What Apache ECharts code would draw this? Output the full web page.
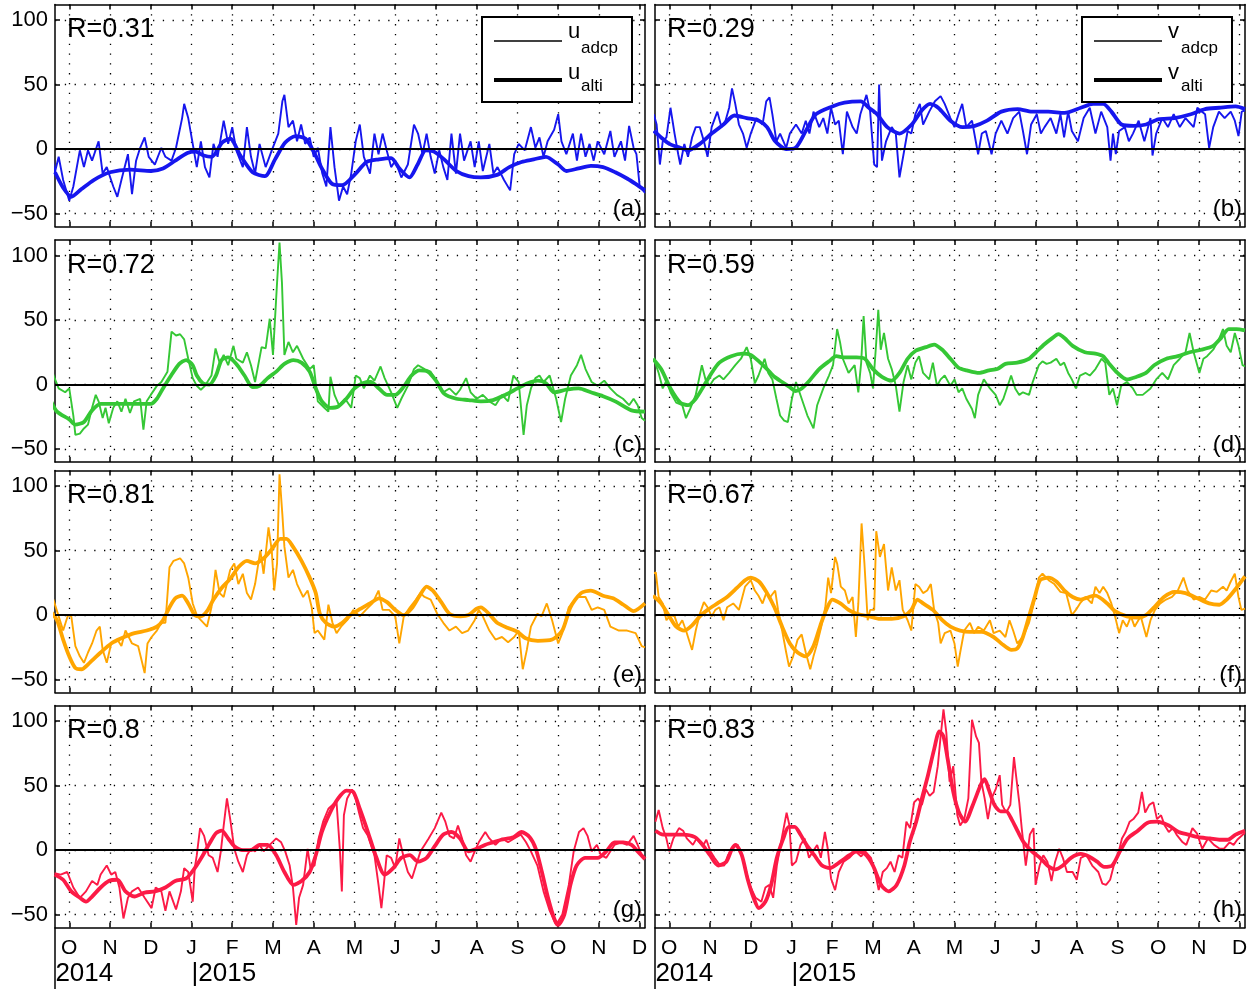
<!DOCTYPE html>
<html><head><meta charset="utf-8">
<script src="https://cdn.jsdelivr.net/npm/echarts@6/dist/echarts.min.js"></script>
<style>html,body{margin:0;padding:0;background:#fff}#c{width:1257px;height:989px}</style>
</head><body><div id="c"></div>
<script>
// x values are months since 1 Oct 2014 (0 = Oct 2014, 3 = Jan 2015, 14 = Dec 2015)
const monthTicks = [0,1,2,3,4,5,6,7,8,9,10,11,12,13,14];
const monthLabels = ['O','N','D','J','F','M','A','M','J','J','A','S','O','N','D'];
const yearTicks = [-0.34, 3];
const yearLabels = ['2014', '|2015'];
const yTicks = [-50, 0, 50, 100];
const rValues = ['0.31','0.29','0.72','0.59','0.81','0.67','0.8','0.83'];
const panelTags = ['(a)','(b)','(c)','(d)','(e)','(f)','(g)','(h)'];
const components = ['u','v'];

const adcpA = [[-0.44,4],[-0.36,-19],[-0.26,-6],[-0.15,-24],[0,-40],[0.1,-29],[0.26,-1],[0.36,-14],[0.46,-1],[0.56,-9],[0.72,6],[0.82,-19],[0.92,-14],[1.08,-29],[1.18,-37],[1.28,-24],[1.44,-4],[1.54,-35],[1.64,-9],[1.74,1],[1.85,9],[1.95,-6],[2.1,-12],[2.26,1],[2.36,-6],[2.51,-9],[2.62,1],[2.77,24],[2.82,35],[2.92,24],[3.03,4],[3.13,-14],[3.23,6],[3.33,-14],[3.44,-22],[3.54,4],[3.64,-6],[3.79,22],[3.9,4],[4.0,17],[4.1,-1],[4.26,-14],[4.36,17],[4.46,-6],[4.56,-19],[4.67,4],[4.82,-14],[4.97,-1],[5.13,12],[5.23,37],[5.28,42],[5.38,17],[5.49,22],[5.59,6],[5.69,19],[5.79,4],[5.9,9],[6.0,-6],[6.1,1],[6.21,-19],[6.31,-29],[6.41,17],[6.51,-14],[6.62,-40],[6.72,-29],[6.82,-35],[6.92,-19],[7.03,6],[7.13,19],[7.23,-6],[7.38,-19],[7.49,12],[7.59,-4],[7.69,12],[7.79,-1],[7.9,-14],[8.0,-9],[8.15,-22],[8.31,-12],[8.46,19],[8.56,12],[8.67,-4],[8.77,12],[8.87,-6],[8.97,-19],[9.08,-1],[9.18,-14],[9.28,-24],[9.38,12],[9.49,-19],[9.59,12],[9.69,-9],[9.85,6],[9.95,-14],[10.05,6],[10.15,-17],[10.31,4],[10.41,-19],[10.51,-14],[10.67,-24],[10.82,-32],[10.92,-4],[11.03,4],[11.18,-1],[11.33,17],[11.44,1],[11.54,9],[11.64,-6],[11.74,6],[11.9,15],[12.0,27],[12.08,6],[12.2,-4],[12.36,12],[12.46,-9],[12.56,12],[12.67,-6],[12.77,4],[12.87,-9],[12.97,6],[13.13,-4],[13.28,14],[13.38,-6],[13.54,6],[13.64,-9],[13.74,18],[13.85,1],[13.92,-4],[14.0,-29],[14.13,-34]];
const altiA = [[-0.35,-18],[-0.15,-30],[0.05,-37],[0.3,-31],[0.6,-24],[1,-18],[1.5,-16],[2,-17],[2.3,-15],[2.6,-9],[2.9,-3],[3.1,-2],[3.3,-5],[3.5,-6],[3.75,5],[3.95,8],[4.2,-5],[4.5,-18],[4.8,-21],[5.05,-8],[5.3,5],[5.55,10],[5.8,8],[6.0,-2],[6.2,-15],[6.45,-27],[6.7,-28],[7.0,-20],[7.3,-10],[7.6,-8],[7.9,-7],[8.1,-15],[8.35,-22],[8.55,-12],[8.75,-1],[8.95,-2],[9.2,-8],[9.5,-17],[9.8,-21],[10.1,-22],[10.5,-20],[10.8,-14],[11.1,-10],[11.4,-8],[11.7,-6],[12.0,-12],[12.2,-17],[12.5,-15],[12.8,-13],[13.1,-14],[13.4,-18],[13.7,-23],[13.9,-27],[14.13,-32]];

const adcpB = [[-0.38,27],[-0.31,19],[-0.23,-12],[-0.16,6],[-0.07,9],[0.03,32],[0.13,12],[0.22,-4],[0.27,-12],[0.37,4],[0.46,-6],[0.56,9],[0.65,17],[0.75,17],[0.85,6],[0.94,-6],[1.04,17],[1.18,29],[1.28,17],[1.38,22],[1.47,32],[1.54,47],[1.62,35],[1.71,19],[1.81,12],[1.9,1],[2.0,12],[2.14,24],[2.29,19],[2.38,37],[2.46,40],[2.53,27],[2.63,6],[2.72,12],[2.87,1],[2.96,12],[3.11,19],[3.25,12],[3.35,22],[3.44,12],[3.54,29],[3.68,17],[3.78,24],[3.88,12],[3.97,32],[4.07,19],[4.16,22],[4.26,-4],[4.36,29],[4.5,17],[4.6,12],[4.69,27],[4.84,42],[4.93,29],[5.03,-12],[5.1,-14],[5.15,50],[5.22,-9],[5.32,6],[5.46,17],[5.56,12],[5.65,-22],[5.75,-4],[5.85,14],[5.94,12],[6.04,27],[6.15,35],[6.23,19],[6.38,29],[6.52,37],[6.66,41],[6.76,35],[6.9,24],[7.0,17],[7.1,27],[7.19,35],[7.29,17],[7.43,22],[7.58,-4],[7.67,12],[7.77,14],[7.91,-4],[8.01,12],[8.15,22],[8.3,12],[8.44,24],[8.59,29],[8.68,14],[8.78,-4],[8.88,19],[9.02,27],[9.12,12],[9.21,17],[9.36,24],[9.5,12],[9.6,27],[9.69,9],[9.79,29],[9.88,14],[10.03,6],[10.17,24],[10.32,32],[10.46,12],[10.6,29],[10.75,17],[10.83,-9],[10.89,12],[10.96,-4],[11.04,14],[11.18,17],[11.28,6],[11.38,12],[11.52,22],[11.66,6],[11.81,24],[11.86,-5],[11.95,12],[12.1,24],[12.24,17],[12.38,27],[12.53,17],[12.67,24],[12.87,17],[12.96,32],[13.15,27],[13.25,1],[13.35,17],[13.49,29],[13.63,24],[13.78,29],[13.88,22],[13.97,10],[14.05,29],[14.13,30]];
const altiB = [[-0.38,14],[-0.2,9],[0.0,4],[0.27,1],[0.46,-1],[0.75,4],[1.04,12],[1.33,19],[1.6,26],[1.9,24],[2.2,22],[2.4,17],[2.6,6],[2.87,0],[3.1,1],[3.35,14],[3.6,27],[4.0,33],[4.3,36],[4.7,37],[4.9,32],[5.1,27],[5.35,17],[5.65,12],[5.95,19],[6.2,30],[6.4,35],[6.6,32],[6.9,22],[7.2,17],[7.5,18],[7.8,22],[8.15,29],[8.55,31],[8.9,29],[9.3,29],[9.7,28],[10.1,32],[10.4,35],[10.65,35],[10.85,29],[11.1,19],[11.4,18],[11.7,19],[12.0,23],[12.4,24],[12.8,27],[13.15,31],[13.5,32],[13.9,33],[14.13,31]];

const adcpC = [[-0.44,12],[-0.36,5],[-0.26,-3],[-0.1,-6],[0,-3],[0.1,-24],[0.15,-39],[0.26,-38],[0.36,-34],[0.46,-31],[0.56,-18],[0.65,-8],[0.72,-13],[0.82,-26],[0.89,-18],[0.97,-30],[1.08,-18],[1.18,-13],[1.28,-21],[1.38,-11],[1.49,-22],[1.59,-13],[1.74,-11],[1.82,-35],[1.9,-13],[2.0,-8],[2.15,-1],[2.26,2],[2.41,10],[2.51,41],[2.62,38],[2.72,39],[2.82,35],[2.92,20],[3.03,5],[3.13,-1],[3.23,-4],[3.33,-1],[3.49,7],[3.59,28],[3.69,17],[3.79,23],[3.9,15],[4.03,30],[4.1,20],[4.26,17],[4.36,25],[4.46,15],[4.56,2],[4.72,29],[4.82,28],[4.92,51],[5.0,23],[5.1,79],[5.16,110],[5.22,79],[5.28,23],[5.38,33],[5.49,25],[5.59,30],[5.74,20],[5.9,12],[6.0,15],[6.1,-13],[6.26,-18],[6.36,-21],[6.41,6],[6.51,-8],[6.62,-16],[6.77,-11],[6.92,-18],[7.03,7],[7.13,5],[7.23,-3],[7.38,7],[7.49,3],[7.64,14],[7.74,5],[7.9,-6],[8.05,-18],[8.15,-11],[8.31,-1],[8.46,12],[8.56,15],[8.72,12],[8.87,10],[9.03,2],[9.18,-6],[9.33,-3],[9.49,-8],[9.59,-4],[9.74,5],[9.85,-6],[10.0,-11],[10.15,-8],[10.31,-13],[10.46,-16],[10.62,-8],[10.77,-13],[10.9,7],[11.03,2],[11.15,-39],[11.23,-16],[11.33,-3],[11.44,5],[11.54,7],[11.64,2],[11.79,7],[11.95,-11],[12.07,-29],[12.17,-11],[12.31,7],[12.46,15],[12.56,23],[12.67,12],[12.82,2],[12.97,-1],[13.13,3],[13.28,-3],[13.44,-8],[13.59,-11],[13.74,-16],[13.85,-11],[13.95,-16],[14.05,-26],[14.13,-28]];
const altiC = [[-0.46,-12],[-0.3,-21],[0,-27],[0.15,-31],[0.36,-29],[0.56,-20],[0.77,-15],[1.08,-15],[1.5,-15],[2.0,-15],[2.15,-11],[2.3,-3],[2.5,7],[2.7,16],[2.87,19],[3.03,15],[3.13,7],[3.28,1],[3.44,0],[3.6,7],[3.74,19],[3.9,21],[4.1,16],[4.3,7],[4.5,-2],[4.67,-1],[4.87,5],[5.08,10],[5.28,16],[5.5,19],[5.7,17],[5.9,10],[6.05,-3],[6.2,-13],[6.4,-18],[6.6,-17],[6.8,-11],[7.0,-3],[7.2,1],[7.4,2],[7.6,-3],[7.8,-8],[8.0,-8],[8.2,-2],[8.4,7],[8.6,11],[8.8,10],[9.0,3],[9.2,-7],[9.5,-11],[9.8,-12],[10.1,-13],[10.4,-12],[10.7,-8],[11.0,-3],[11.25,1],[11.5,3],[11.7,1],[11.9,-6],[12.2,-4],[12.5,-3],[12.8,-6],[13.1,-9],[13.4,-13],[13.8,-20],[14.13,-21]];

const adcpD = [[-0.4,22],[-0.26,9],[-0.16,-3],[-0.07,3],[0.03,-6],[0.17,-14],[0.32,-16],[0.41,-26],[0.51,-19],[0.65,-8],[0.8,15],[0.89,4],[0.99,-1],[1.09,4],[1.23,7],[1.33,4],[1.47,9],[1.62,15],[1.76,20],[1.9,29],[2.0,20],[2.1,1],[2.19,7],[2.34,20],[2.43,9],[2.53,4],[2.63,-11],[2.72,-24],[2.82,-28],[2.91,-29],[3.01,-11],[3.11,2],[3.25,-11],[3.39,-24],[3.54,-34],[3.63,-16],[3.78,-3],[3.92,7],[4.02,15],[4.12,43],[4.19,33],[4.26,20],[4.4,9],[4.55,15],[4.64,-6],[4.71,17],[4.77,53],[4.84,17],[4.93,9],[5.0,-3],[5.08,33],[5.13,58],[5.19,27],[5.27,40],[5.37,20],[5.46,12],[5.56,-1],[5.65,-21],[5.75,2],[5.85,15],[5.94,4],[6.04,17],[6.13,22],[6.23,9],[6.38,4],[6.47,17],[6.57,-1],[6.66,4],[6.76,7],[6.9,-1],[7.0,4],[7.1,-6],[7.19,-3],[7.29,-11],[7.43,-19],[7.5,-26],[7.58,-8],[7.72,4],[7.87,-3],[8.01,-8],[8.11,-16],[8.2,-11],[8.39,7],[8.49,-3],[8.59,-8],[8.68,-6],[8.83,-8],[8.92,2],[9.07,15],[9.16,18],[9.26,16],[9.36,17],[9.5,20],[9.6,15],[9.69,17],[9.79,9],[9.88,4],[9.98,-3],[10.08,7],[10.22,9],[10.32,7],[10.46,12],[10.61,20],[10.7,17],[10.8,-8],[10.89,-3],[10.99,-16],[11.09,-1],[11.23,2],[11.38,-3],[11.47,-8],[11.62,-8],[11.81,-3],[11.95,4],[12.1,9],[12.24,4],[12.38,15],[12.53,20],[12.67,25],[12.77,40],[12.87,25],[13.01,9],[13.11,20],[13.2,22],[13.35,27],[13.49,35],[13.59,43],[13.68,30],[13.78,25],[13.88,40],[13.97,30],[14.07,15],[14.13,14]];
const altiD = [[-0.4,20],[-0.2,12],[0.03,-3],[0.27,-14],[0.46,-16],[0.65,-11],[0.85,-1],[1.04,9],[1.23,17],[1.52,22],[1.8,24],[2.0,23],[2.2,18],[2.4,12],[2.58,6],[2.77,2],[2.96,-2],[3.1,-5],[3.25,-3],[3.44,3],[3.68,12],[3.92,18],[4.1,22],[4.3,21],[4.6,21],[4.8,20],[5.0,12],[5.22,6],[5.46,3],[5.65,9],[5.85,20],[6.04,26],[6.3,29],[6.5,31],[6.7,27],[6.9,20],[7.1,13],[7.3,11],[7.6,9],[7.85,11],[8.05,12],[8.25,16],[8.54,17],[8.83,20],[9.0,25],[9.2,31],[9.4,36],[9.55,39],[9.7,36],[9.9,30],[10.2,25],[10.46,24],[10.65,22],[10.8,16],[11.0,9],[11.23,4],[11.47,6],[11.7,9],[11.9,15],[12.2,20],[12.48,22],[12.77,25],[13.06,27],[13.35,30],[13.54,36],[13.73,43],[13.92,43],[14.13,42]];

const adcpE = [[-0.46,1],[-0.39,12],[-0.31,4],[-0.15,-12],[-0.03,0],[0.05,-1],[0.15,-24],[0.26,-32],[0.36,-37],[0.46,-29],[0.56,-22],[0.67,-12],[0.75,-9],[0.82,-27],[0.92,-37],[1.03,-22],[1.18,-19],[1.28,-24],[1.38,-12],[1.54,-22],[1.69,-24],[1.79,-37],[1.85,-45],[1.92,-22],[2.02,-17],[2.15,-12],[2.26,-6],[2.36,-6],[2.46,37],[2.56,42],[2.72,44],[2.82,40],[2.92,29],[3.03,9],[3.13,0],[3.23,-4],[3.38,-9],[3.49,6],[3.59,35],[3.69,17],[3.79,14],[3.95,35],[4.05,40],[4.15,24],[4.26,32],[4.36,17],[4.46,12],[4.56,24],[4.69,50],[4.77,32],[4.89,68],[4.97,50],[5.03,19],[5.1,40],[5.16,109],[5.23,78],[5.28,53],[5.38,29],[5.49,35],[5.59,24],[5.74,14],[5.85,19],[5.95,6],[6.02,-14],[6.1,-12],[6.26,-19],[6.36,8],[6.46,-6],[6.56,-14],[6.67,-9],[6.82,-4],[6.97,4],[7.13,-1],[7.28,4],[7.44,9],[7.59,19],[7.69,4],[7.85,4],[8.0,-1],[8.1,-22],[8.21,-1],[8.36,6],[8.51,12],[8.62,17],[8.72,14],[8.87,12],[9.03,1],[9.18,-6],[9.33,-12],[9.49,-9],[9.64,-14],[9.79,-12],[9.95,-4],[10.05,4],[10.15,-1],[10.31,-12],[10.46,-19],[10.62,-17],[10.77,-21],[10.92,-17],[11.03,-12],[11.13,-42],[11.23,-27],[11.33,-9],[11.49,1],[11.59,-1],[11.72,9],[11.85,-4],[12.0,-22],[12.1,-14],[12.26,6],[12.46,14],[12.67,14],[12.82,4],[12.97,6],[13.13,4],[13.28,-9],[13.49,-12],[13.69,-12],[13.9,-14],[14.05,-24],[14.13,-25]];
const altiE = [[-0.46,3],[-0.3,-4],[-0.15,-19],[0,-32],[0.15,-41],[0.3,-42],[0.5,-37],[0.77,-29],[1.03,-22],[1.28,-18],[1.6,-14],[1.9,-12],[2.15,-9],[2.3,-4],[2.46,6],[2.6,13],[2.77,15],[2.92,9],[3.08,0],[3.23,-1],[3.38,3],[3.54,12],[3.74,21],[3.95,28],[4.15,37],[4.36,42],[4.56,40],[4.77,44],[4.97,51],[5.18,59],[5.33,59],[5.49,53],[5.7,42],[5.9,29],[6.05,17],[6.15,1],[6.3,-6],[6.5,-9],[6.7,-6],[6.9,0],[7.1,4],[7.38,9],[7.6,13],[7.8,10],[8.0,4],[8.2,0],[8.4,5],[8.6,15],[8.77,22],[8.92,19],[9.13,10],[9.33,1],[9.6,-1],[9.8,0],[10.0,5],[10.1,6],[10.3,1],[10.5,-6],[10.77,-10],[11.0,-13],[11.2,-18],[11.5,-20],[11.85,-19],[12.1,-12],[12.3,6],[12.56,17],[12.8,19],[13.1,15],[13.35,13],[13.6,8],[13.85,3],[14.13,9]];

const adcpF = [[-0.4,32],[-0.33,33],[-0.26,14],[-0.16,9],[-0.07,-4],[0.03,0],[0.13,-1],[0.22,-9],[0.32,-4],[0.41,-12],[0.51,-22],[0.56,-27],[0.65,-12],[0.75,1],[0.85,10],[0.94,6],[1.04,-1],[1.13,4],[1.23,6],[1.33,-4],[1.42,6],[1.57,9],[1.71,4],[1.86,22],[2.0,27],[2.1,19],[2.19,15],[2.29,9],[2.38,17],[2.48,14],[2.6,19],[2.67,4],[2.77,-12],[2.87,-29],[2.94,-40],[3.04,-32],[3.15,-19],[3.25,-15],[3.35,-29],[3.46,-42],[3.54,-32],[3.63,-22],[3.73,-9],[3.83,6],[3.9,29],[3.97,17],[4.07,45],[4.12,40],[4.21,22],[4.31,19],[4.4,9],[4.5,14],[4.58,-17],[4.64,9],[4.72,71],[4.79,40],[4.87,-4],[4.93,4],[5.03,4],[5.08,65],[5.17,45],[5.27,55],[5.37,19],[5.46,37],[5.56,19],[5.65,27],[5.73,4],[5.85,-4],[5.94,-12],[6.04,24],[6.13,22],[6.23,17],[6.33,19],[6.42,24],[6.5,4],[6.6,-6],[6.66,-22],[6.76,-14],[6.9,-12],[7.0,-22],[7.08,-40],[7.14,-29],[7.24,-12],[7.38,-6],[7.48,-14],[7.58,-9],[7.72,-12],[7.87,-4],[7.96,-14],[8.11,-12],[8.25,-17],[8.35,-4],[8.44,-12],[8.54,-22],[8.68,-17],[8.83,-6],[8.97,12],[9.07,29],[9.16,32],[9.31,27],[9.45,24],[9.6,18],[9.74,17],[9.88,0],[9.98,4],[10.08,9],[10.22,14],[10.37,9],[10.46,22],[10.56,17],[10.65,22],[10.75,17],[10.85,9],[10.94,-1],[11.04,-14],[11.13,-4],[11.23,-9],[11.33,-1],[11.42,-9],[11.57,-1],[11.71,-17],[11.81,-4],[11.92,4],[12.05,9],[12.19,12],[12.34,14],[12.48,19],[12.62,29],[12.72,19],[12.87,12],[13.01,14],[13.15,12],[13.3,19],[13.44,18],[13.59,22],[13.68,19],[13.78,26],[13.88,32],[13.97,14],[14.04,4],[14.13,5]];
const altiF = [[-0.4,15],[-0.2,9],[0,-1],[0.17,-9],[0.37,-12],[0.56,-8],[0.75,-1],[0.94,4],[1.18,9],[1.42,14],[1.66,21],[1.86,27],[2.0,29],[2.2,26],[2.38,18],[2.58,6],[2.77,-9],[2.96,-22],[3.15,-29],[3.35,-32],[3.54,-24],[3.73,-6],[3.88,6],[4.0,12],[4.2,9],[4.4,4],[4.6,1],[4.9,-1],[5.17,-3],[5.46,-3],[5.75,-1],[5.94,4],[6.09,12],[6.23,9],[6.47,4],[6.7,-4],[6.9,-9],[7.14,-12],[7.38,-13],[7.67,-13],[7.96,-17],[8.15,-22],[8.4,-27],[8.54,-26],[8.68,-17],[8.83,-1],[8.97,14],[9.1,27],[9.3,29],[9.5,26],[9.7,19],[9.9,14],[10.1,12],[10.3,14],[10.46,15],[10.75,9],[10.94,3],[11.23,-1],[11.5,-2],[11.7,0],[11.9,6],[12.14,14],[12.4,18],[12.67,17],[12.96,13],[13.25,9],[13.5,8],[13.68,12],[13.87,19],[14.13,30]];

const adcpG = [[-0.36,-18],[-0.21,-19],[-0.05,-17],[0.1,-29],[0.26,-37],[0.41,-32],[0.56,-24],[0.69,-27],[0.77,-19],[0.92,-12],[1.03,-19],[1.13,-17],[1.23,-29],[1.33,-53],[1.44,-37],[1.54,-32],[1.69,-29],[1.85,-37],[2.02,-45],[2.12,-29],[2.26,-32],[2.36,-47],[2.46,-32],[2.62,-46],[2.74,-32],[2.82,-14],[2.92,-17],[3.03,-40],[3.08,-14],[3.13,-4],[3.21,17],[3.31,11],[3.42,-4],[3.52,-6],[3.64,-17],[3.72,-1],[3.79,19],[3.87,40],[3.95,24],[4.05,1],[4.15,-9],[4.26,-17],[4.36,-4],[4.46,1],[4.56,-1],[4.67,4],[4.77,-1],[4.92,4],[5.08,9],[5.2,6],[5.3,-1],[5.41,-12],[5.49,-29],[5.57,-58],[5.64,-37],[5.74,-27],[5.85,1],[5.92,-14],[6.02,-12],[6.12,9],[6.23,22],[6.36,32],[6.46,35],[6.56,37],[6.64,1],[6.69,-32],[6.74,27],[6.82,40],[6.94,47],[7.03,40],[7.11,29],[7.21,17],[7.33,11],[7.49,-4],[7.59,-27],[7.66,-45],[7.72,-27],[7.79,-4],[7.9,-6],[8.0,-14],[8.1,9],[8.21,-6],[8.31,-17],[8.41,-22],[8.51,-12],[8.62,-1],[8.72,4],[8.82,9],[8.97,17],[9.13,29],[9.23,22],[9.33,11],[9.44,9],[9.54,19],[9.64,9],[9.74,-4],[9.85,-9],[9.95,-1],[10.05,6],[10.21,14],[10.31,9],[10.46,4],[10.62,9],[10.77,6],[10.92,9],[11.08,12],[11.21,6],[11.33,-1],[11.49,-12],[11.64,-32],[11.79,-47],[11.95,-58],[12.1,-50],[12.26,-27],[12.38,-1],[12.51,14],[12.62,17],[12.72,11],[12.82,-1],[12.95,4],[13.05,-4],[13.18,-6],[13.28,-1],[13.38,4],[13.54,6],[13.69,4],[13.85,11],[13.95,4],[14.05,-4],[14.13,-6]];
const altiG = [[-0.36,-19],[-0.15,-23],[0.05,-32],[0.26,-37],[0.41,-40],[0.56,-36],[0.77,-29],[0.97,-24],[1.18,-23],[1.38,-32],[1.6,-36],[1.85,-33],[2.1,-32],[2.36,-29],[2.6,-24],[2.87,-22],[3.08,-14],[3.28,-4],[3.44,5],[3.6,13],[3.74,15],[3.9,9],[4.05,3],[4.26,0],[4.46,0],[4.67,4],[4.87,4],[5.08,-4],[5.28,-17],[5.5,-27],[5.7,-24],[5.9,-17],[6.05,-4],[6.2,14],[6.4,29],[6.6,40],[6.8,46],[6.97,45],[7.13,32],[7.33,14],[7.54,-6],[7.74,-19],[7.95,-14],[8.15,-6],[8.36,-4],[8.56,-9],[8.77,-6],[8.97,3],[9.18,12],[9.38,14],[9.59,9],[9.8,-1],[10.0,1],[10.2,4],[10.4,6],[10.6,8],[10.9,10],[11.1,14],[11.3,10],[11.45,1],[11.6,-17],[11.75,-37],[11.9,-53],[12.0,-58],[12.15,-50],[12.3,-27],[12.45,-12],[12.66,-6],[12.97,-6],[13.18,-1],[13.38,6],[13.6,6],[13.8,4],[13.95,-1],[14.13,-7]];

const adcpH = [[-0.34,22],[-0.26,31],[-0.16,17],[-0.07,9],[0,-1],[0.1,9],[0.24,17],[0.34,15],[0.43,9],[0.58,4],[0.67,9],[0.82,3],[0.91,8],[1.01,-1],[1.11,-6],[1.25,-12],[1.35,-12],[1.44,-4],[1.59,4],[1.68,4],[1.83,-9],[1.97,-27],[2.12,-37],[2.26,-40],[2.36,-29],[2.45,-27],[2.55,-37],[2.64,-12],[2.76,9],[2.88,29],[2.95,19],[3.01,-12],[3.11,-9],[3.22,4],[3.32,9],[3.43,-6],[3.53,-1],[3.63,4],[3.72,-6],[3.82,14],[3.89,1],[3.97,-22],[4.07,-31],[4.16,-17],[4.28,-9],[4.42,-6],[4.57,-1],[4.71,-5],[4.81,-1],[4.95,-6],[5.05,-17],[5.14,-31],[5.24,-17],[5.34,-14],[5.43,-9],[5.53,-17],[5.63,-4],[5.72,-6],[5.82,22],[5.91,17],[6.01,37],[6.11,40],[6.2,35],[6.3,47],[6.39,42],[6.49,45],[6.59,65],[6.66,88],[6.73,109],[6.8,91],[6.88,53],[6.97,65],[7.07,27],[7.14,19],[7.24,24],[7.34,40],[7.43,101],[7.53,88],[7.6,83],[7.66,53],[7.74,40],[7.82,24],[7.91,40],[8.01,47],[8.11,58],[8.17,35],[8.27,29],[8.37,35],[8.46,72],[8.51,58],[8.59,37],[8.65,17],[8.75,-12],[8.85,12],[8.94,17],[8.99,-27],[9.09,-12],[9.18,-4],[9.28,-9],[9.38,-24],[9.47,-9],[9.57,1],[9.66,-6],[9.76,-17],[9.9,-17],[10.0,-23],[10.1,-6],[10.24,-4],[10.38,-12],[10.53,-17],[10.63,-26],[10.72,-27],[10.82,-23],[10.91,-12],[11.01,-4],[11.11,9],[11.2,14],[11.3,22],[11.39,24],[11.51,29],[11.6,45],[11.68,29],[11.78,35],[11.88,37],[11.97,24],[12.07,27],[12.16,19],[12.26,14],[12.36,17],[12.45,12],[12.6,6],[12.69,4],[12.84,17],[12.95,13],[13.08,1],[13.22,9],[13.37,4],[13.51,1],[13.61,1],[13.75,6],[13.85,4],[13.94,8],[14.08,12],[14.13,13]];
const altiH = [[-0.34,15],[-0.15,12],[0.05,12],[0.34,12],[0.63,10],[0.82,4],[1.0,-4],[1.2,-12],[1.4,-9],[1.54,1],[1.63,4],[1.78,-4],[1.92,-22],[2.07,-37],[2.2,-45],[2.36,-40],[2.5,-27],[2.64,-6],[2.8,9],[2.93,18],[3.08,18],[3.22,12],[3.37,4],[3.56,-4],[3.75,-12],[3.94,-14],[4.2,-9],[4.42,-4],[4.6,-1],[4.8,-3],[5.0,-12],[5.2,-27],[5.38,-32],[5.58,-27],[5.77,-12],[5.9,6],[6.06,22],[6.2,40],[6.35,58],[6.5,78],[6.63,92],[6.73,88],[6.83,71],[6.97,45],[7.1,30],[7.26,22],[7.45,35],[7.65,51],[7.74,55],[7.84,47],[7.98,35],[8.13,30],[8.27,30],[8.4,24],[8.56,14],[8.7,6],[8.9,-1],[9.1,-6],[9.28,-12],[9.47,-15],[9.66,-12],[9.86,-6],[10.1,-3],[10.3,-5],[10.5,-9],[10.67,-13],[10.87,-12],[11.06,-1],[11.25,9],[11.5,15],[11.73,21],[11.97,22],[12.26,19],[12.5,14],[12.74,12],[12.98,10],[13.27,9],[13.5,8],[13.7,8],[13.9,12],[14.13,15]];

const panelColors = ['#1616ee','#1616ee','#35c735','#35c735','#ffa500','#ffa500','#fc1a46','#fc1a46'];
const adcpList = [adcpA, adcpB, adcpC, adcpD, adcpE, adcpF, adcpG, adcpH];
const altiList = [altiA, altiB, altiC, altiD, altiE, altiF, altiG, altiH];

const FONT = '"Liberation Sans", Arial, Helvetica, sans-serif';
const rowTops = [4.5, 240, 470.5, 705.5];
const colLefts = [55, 655];
const GW = 590, GH = 222;
const XMIN = -0.35, XMAX = 14.13, YMIN = -60, YMAX = 112;
const dotted = {color:'#000', width:1.3, type:[1.3, 8.5]};
const axLine = {show:true, onZero:false, lineStyle:{color:'#000', width:1.5}};
const tickStyle = {color:'#000', width:1.5};
const minus = v => v < 0 ? '\u2212' + Math.abs(v) : String(v);

const grid = [], xAxis = [], yAxis = [], series = [], graphic = [];

for (let i = 0; i < 8; i++) {
  const row = Math.floor(i / 2), col = i % 2;
  const L = colLefts[col], T = rowTops[row];
  const isBottom = row === 3, isLeft = col === 0;
  grid.push({left: L, top: T, width: GW, height: GH, containLabel: false});

  const xb = xAxis.length;
  xAxis.push({type:'value', gridIndex:i, min:XMIN, max:XMAX, position:'bottom',
    axisLine: axLine,
    axisTick:{show:true, inside:true, length:5, customValues: monthTicks, lineStyle: tickStyle},
    axisLabel:{show:isBottom, customValues: monthTicks, formatter: v => monthLabels[Math.round(v)],
      fontSize:21, fontFamily:FONT, color:'#000', margin:10},
    splitLine:{show:true, lineStyle: dotted}});
  xAxis.push({type:'value', gridIndex:i, min:XMIN, max:XMAX, position:'top',
    axisLine: axLine,
    axisTick:{show:true, inside:true, length:5, customValues: monthTicks, lineStyle: tickStyle},
    axisLabel:{show:false}, splitLine:{show:false}});
  if (isBottom) {
    xAxis.push({type:'value', gridIndex:i, min:XMIN, max:XMAX, position:'bottom',
      axisLine:{show:false}, axisTick:{show:false}, splitLine:{show:false},
      axisLabel:{show:true, customValues: yearTicks, align:'left',
        formatter: v => yearLabels[yearTicks.indexOf(v)],
        fontSize:26, fontFamily:FONT, color:'#000', margin:33}});
  }
  const yl = yAxis.length;
  yAxis.push({type:'value', gridIndex:i, min:YMIN, max:YMAX, position:'left',
    axisLine: axLine,
    axisTick:{show:true, inside:true, length:5, customValues: yTicks, lineStyle: tickStyle},
    axisLabel:{show:isLeft, customValues: yTicks, formatter: minus, fontSize:22, fontFamily:FONT, color:'#000', margin:7},
    splitLine:{show:true, lineStyle: dotted}});
  yAxis.push({type:'value', gridIndex:i, min:YMIN, max:YMAX, position:'right',
    axisLine: axLine,
    axisTick:{show:true, inside:true, length:5, customValues: yTicks, lineStyle: tickStyle},
    axisLabel:{show:false}, splitLine:{show:false}});

  const c = panelColors[i];
  series.push({type:'line', xAxisIndex:xb, yAxisIndex:yl, data: adcpList[i],
    showSymbol:false, symbol:'none', animation:false, clip:true, z:2,
    lineStyle:{color:c, width:1.9}, itemStyle:{color:c}});
  series.push({type:'line', xAxisIndex:xb, yAxisIndex:yl, data: altiList[i],
    showSymbol:false, symbol:'none', animation:false, clip:true, z:3, smooth:0.25,
    lineStyle:{color:c, width:3.8}, itemStyle:{color:c},
    markLine:{silent:true, symbol:['none','none'], animation:false, label:{show:false},
      lineStyle:{color:'#000', type:'solid', width:1.8}, data:[{yAxis:0}]}});

  // panel annotations
  graphic.push({type:'text', x: L + 12, y: T + 25.5, z: 10,
    style:{text:'R=' + rValues[i], font:'27px ' + FONT, fill:'#000', align:'left', verticalAlign:'middle'}});
  graphic.push({type:'text', x: L + 587, y: T + 205, z: 10,
    style:{text: panelTags[i], font:'24px ' + FONT, fill:'#000', align:'right', verticalAlign:'middle'}});

  if (row === 0) {
    const comp = components[col];
    graphic.push({type:'rect', z: 10, shape:{x: L + 427, y: T + 12.5, width:150, height:85},
      style:{fill:'#fff', stroke:'#000', lineWidth:2}});
    graphic.push({type:'line', z: 11, shape:{x1: L + 439, y1: T + 36.5, x2: L + 507, y2: T + 36.5},
      style:{stroke:'#000', lineWidth:1.5}});
    graphic.push({type:'line', z: 11, shape:{x1: L + 439, y1: T + 75.5, x2: L + 507, y2: T + 75.5},
      style:{stroke:'#000', lineWidth:4}});
    graphic.push({type:'text', z: 11, x: L + 513, y: T + 27.5,
      style:{text: comp, font:'22px ' + FONT, fill:'#000', align:'left', verticalAlign:'middle'}});
    graphic.push({type:'text', z: 11, x: L + 526, y: T + 44,
      style:{text:'adcp', font:'17px ' + FONT, fill:'#000', align:'left', verticalAlign:'middle'}});
    graphic.push({type:'text', z: 11, x: L + 513, y: T + 68.5,
      style:{text: comp, font:'22px ' + FONT, fill:'#000', align:'left', verticalAlign:'middle'}});
    graphic.push({type:'text', z: 11, x: L + 526, y: T + 82,
      style:{text:'alti', font:'17px ' + FONT, fill:'#000', align:'left', verticalAlign:'middle'}});
  }
  if (isBottom) {
    graphic.push({type:'line', z: 10, shape:{x1: L, y1: T + GH, x2: L, y2: 989},
      style:{stroke:'#000', lineWidth:1.5}});
  }
}

const chart = echarts.init(document.getElementById('c'), null, {renderer:'canvas', width:1257, height:989});
chart.setOption({backgroundColor:'#fff', animation:false, grid, xAxis, yAxis, series, graphic});
</script>
</body></html>
